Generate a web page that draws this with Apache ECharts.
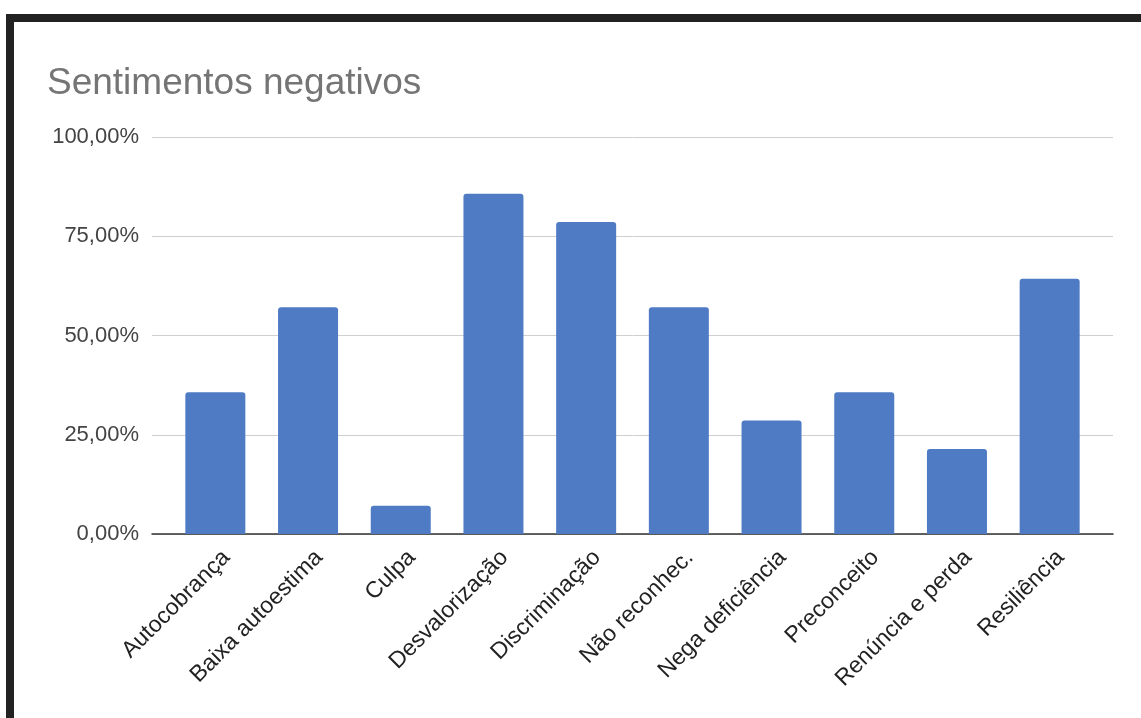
<!DOCTYPE html>
<html>
<head>
<meta charset="utf-8">
<script src="https://cdn.jsdelivr.net/npm/echarts@6/dist/echarts.min.js"></script>
<style>
  html, body { margin: 0; padding: 0; background: #fff; }
  #chart { width: 1141px; height: 718px; }
</style>
</head>
<body>
<div id="chart"></div>
<script>
const categories = ['Autocobrança', 'Baixa autoestima', 'Culpa', 'Desvalorização', 'Discriminação',
  'Não reconhec.', 'Nega deficiência', 'Preconceito', 'Renúncia e perda', 'Resiliência'];
const shares = [0.3571, 0.5714, 0.0714, 0.8571, 0.7857, 0.5714, 0.2857, 0.3571, 0.2143, 0.6429];
const yTicks = [0, 0.25, 0.5, 0.75, 1];

const FONT = '"Liberation Sans", Arial, sans-serif';

function pctLabel(v) {
  return (v * 100).toFixed(2).replace('.', ',') + '%';
}

const chart = echarts.init(document.getElementById('chart'));

const option = {
  animation: false,
  backgroundColor: '#fff',
  title: {
    text: 'Sentimentos negativos',
    left: 42,
    top: 60,
    textStyle: { fontFamily: FONT, fontSize: 37, fontWeight: 'normal', color: '#757575' }
  },
  graphic: [
    { type: 'rect', shape: { x: 6, y: 14, width: 1135, height: 8 }, style: { fill: '#222' } },
    { type: 'rect', shape: { x: 6, y: 14, width: 8, height: 704 }, style: { fill: '#222' } }
  ],
  grid: [
    // gridlines + y labels + baseline
    { left: 152, right: 28, top: 137, bottom: 184 },
    // bars
    { left: 169, right: 45, top: 137, bottom: 184 },
    // category labels, nudged right like the original
    { left: 180, right: 34, top: 137, bottom: 184 }
  ],
  xAxis: [
    {
      gridIndex: 0,
      type: 'value',
      min: 0,
      max: 1,
      axisLine: { show: true, onZero: false, lineStyle: { color: '#333', width: 1.5 } },
      axisTick: { show: false },
      axisLabel: { show: false },
      splitLine: { show: false }
    },
    {
      gridIndex: 1,
      type: 'category',
      data: categories,
      axisLine: { show: false },
      axisTick: { show: false },
      axisLabel: { show: false }
    },
    {
      gridIndex: 2,
      type: 'category',
      data: categories,
      axisLine: { show: false },
      axisTick: { show: false },
      axisLabel: {
        interval: 0,
        rotate: 45,
        margin: 20,
        fontFamily: FONT,
        fontSize: 23,
        color: '#222'
      }
    }
  ],
  yAxis: [
    {
      gridIndex: 0,
      type: 'value',
      min: 0,
      max: 1,
      interval: 0.25,
      axisLine: { show: false },
      axisTick: { show: false },
      axisLabel: {
        margin: 13,
        fontFamily: FONT,
        fontSize: 22,
        color: '#444',
        formatter: v => yTicks.includes(v) ? pctLabel(v) : ''
      },
      splitLine: { lineStyle: { color: '#cfcfcf', width: 1 } }
    },
    { gridIndex: 1, type: 'value', min: 0, max: 1, show: false },
    { gridIndex: 2, type: 'value', min: 0, max: 1, show: false }
  ],
  series: [
    {
      type: 'bar',
      xAxisIndex: 1,
      yAxisIndex: 1,
      data: shares,
      barWidth: 60,
      itemStyle: { color: '#4e7bc3', borderRadius: [3, 3, 0, 0] }
    }
  ]
};

chart.setOption(option);
</script>
</body>
</html>
